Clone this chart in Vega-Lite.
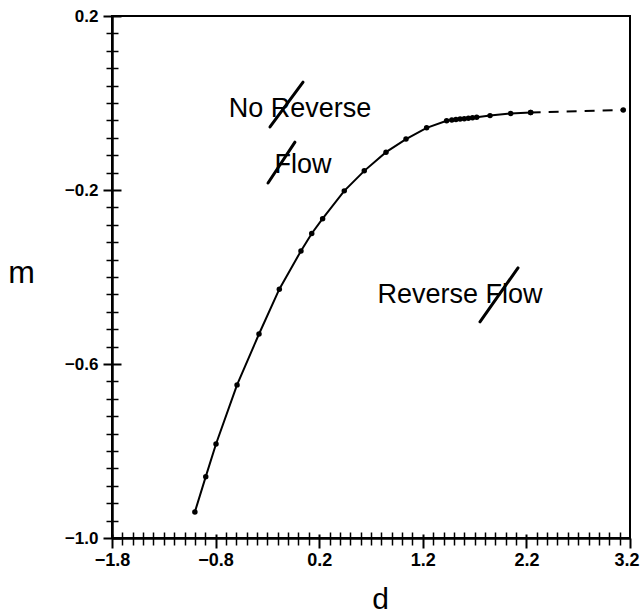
{
  "$schema": "https://vega.github.io/schema/vega-lite/v6.json",
  "autosize": {"type": "none"},
  "padding": {"left": 112, "top": 16, "right": 11, "bottom": 75},
  "width": 518,
  "height": 522,
  "background": "white",
  "config": {
    "view": {"stroke": "#000", "strokeWidth": 2},
    "font": "Liberation Sans"
  },
  "datasets": {
    "curve": [
      {"d": -1.0, "m": -0.94},
      {"d": -0.895, "m": -0.859},
      {"d": -0.796, "m": -0.784},
      {"d": -0.593, "m": -0.648},
      {"d": -0.381, "m": -0.531},
      {"d": -0.185, "m": -0.428},
      {"d": 0.024, "m": -0.34},
      {"d": 0.128, "m": -0.3},
      {"d": 0.233, "m": -0.266},
      {"d": 0.442, "m": -0.202},
      {"d": 0.635, "m": -0.156},
      {"d": 0.845, "m": -0.113},
      {"d": 1.038, "m": -0.083},
      {"d": 1.237, "m": -0.057},
      {"d": 1.43, "m": -0.041},
      {"d": 1.48, "m": -0.039},
      {"d": 1.52, "m": -0.038},
      {"d": 1.56, "m": -0.037},
      {"d": 1.6, "m": -0.036},
      {"d": 1.64, "m": -0.035},
      {"d": 1.68, "m": -0.034},
      {"d": 1.72, "m": -0.033},
      {"d": 1.849, "m": -0.029},
      {"d": 2.048, "m": -0.024},
      {"d": 2.241, "m": -0.022}
    ],
    "dash": [
      {"d": 2.241, "m": -0.022},
      {"d": 3.135, "m": -0.016}
    ],
    "labels": [
      {"d": 0.015, "m": -0.014, "text": "No Reverse"},
      {"d": 0.044, "m": -0.143, "text": "Flow"},
      {"d": 1.559, "m": -0.441, "text": "Reverse Flow"}
    ],
    "strikes": [
      {"d": -0.275, "m": -0.055, "d2": 0.044, "m2": 0.048},
      {"d": -0.294, "m": -0.184, "d2": -0.034, "m2": -0.09},
      {"d": 1.752, "m": -0.503, "d2": 2.119, "m2": -0.379}
    ]
  },
  "resolve": {"axis": {"x": "independent", "y": "independent"}},
  "layer": [
    {
      "data": {"name": "curve"},
      "mark": {"type": "line", "color": "#000", "strokeWidth": 2},
      "encoding": {
        "x": {
          "field": "d", "type": "quantitative",
          "scale": {"domain": [-1.8, 3.2], "nice": false, "zero": false},
          "axis": {
            "orient": "bottom",
            "values": [-1.8, -0.8, 0.2, 1.2, 2.2],
            "format": ".1f",
            "grid": true, "gridColor": "#000", "gridWidth": 2, "gridDash": [9, 2000], "gridDashOffset": 1491,
            "labelOverlap": false,
            "domainColor": "#000", "domainWidth": 2.5,
            "tickColor": "#000", "tickWidth": 2, "tickSize": 10,
            "labelFontSize": 18, "labelFontWeight": "bold", "labelColor": "#000",
            "labelPadding": 3, "labelFlush": false,
            "title": "d", "titleFontSize": 30, "titleFontWeight": "normal", "titleColor": "#000",
            "titleX": 268, "titleY": 70, "titleBaseline": "alphabetic", "titleAlign": "center"
          }
        },
        "y": {
          "field": "m", "type": "quantitative",
          "scale": {"domain": [-1.0, 0.2], "nice": false, "zero": false},
          "axis": {
            "orient": "left",
            "values": [-1.0, -0.6, -0.2, 0.2],
            "format": ".1f",
            "grid": true, "gridColor": "#000", "gridWidth": 2, "gridDash": [9, 2000], "gridDashOffset": 0,
            "labelOverlap": false,
            "domainColor": "#000", "domainWidth": 2.5,
            "tickColor": "#000", "tickWidth": 2, "tickSize": 9,
            "labelFontSize": 17, "labelFontWeight": "bold", "labelColor": "#000",
            "labelPadding": 5, "labelFlush": false,
            "title": "m", "titleFontSize": 32, "titleFontWeight": "normal", "titleColor": "#000",
            "titleAngle": 0, "titleX": -91, "titleY": 256, "titleAlign": "center", "titleBaseline": "middle"
          }
        }
      }
    },
    {
      "data": {"name": "curve"},
      "mark": {"type": "point", "filled": true, "color": "#000", "size": 30, "opacity": 1},
      "encoding": {
        "x": {
          "field": "d", "type": "quantitative",
          "axis": {
            "orient": "bottom",
            "values": [-1.7,-1.6,-1.5,-1.4,-1.3,-1.2,-1.1,-1.0,-0.9,-0.7,-0.6,-0.5,-0.4,-0.3,-0.2,-0.1,0,0.1,0.3,0.4,0.5,0.6,0.7,0.8,0.9,1.0,1.1,1.3,1.4,1.5,1.6,1.7,1.8,1.9,2.0,2.1,2.3,2.4,2.5,2.6,2.7,2.8,2.9,3.0,3.1],
            "labels": false, "domain": false, "title": null,
            "grid": true, "gridColor": "#000", "gridWidth": 1.5, "gridDash": [6, 2000], "gridDashOffset": 1490,
            "tickColor": "#000", "tickWidth": 1.5, "tickSize": 7
          }
        },
        "y": {
          "field": "m", "type": "quantitative",
          "axis": {
            "orient": "left",
            "values": [-0.96,-0.92,-0.88,-0.84,-0.8,-0.76,-0.72,-0.68,-0.64,-0.56,-0.52,-0.48,-0.44,-0.4,-0.36,-0.32,-0.28,-0.24,-0.16,-0.12,-0.08,-0.04,0,0.04,0.08,0.12,0.16],
            "labels": false, "domain": false, "title": null,
            "grid": true, "gridColor": "#000", "gridWidth": 1.5, "gridDash": [6, 2000], "gridDashOffset": 0,
            "tickColor": "#000", "tickWidth": 1.5, "tickSize": 6
          }
        }
      }
    },
    {
      "data": {"name": "dash"},
      "mark": {"type": "line", "color": "#000", "strokeWidth": 2, "strokeDash": [10, 8]},
      "encoding": {
        "x": {
          "field": "d", "type": "quantitative",
          "axis": {
            "orient": "bottom",
            "values": [3.2],
            "format": ".1f",
            "grid": false, "domain": false, "title": null,
            "tickColor": "#000", "tickWidth": 2, "tickSize": 10,
            "labelFontSize": 18, "labelFontWeight": "bold", "labelColor": "#000",
            "labelPadding": 3, "labelFlush": false, "labelBound": false,
            "labelAlign": "right", "labelOffset": 9
          }
        },
        "y": {"field": "m", "type": "quantitative", "axis": null}
      }
    },
    {
      "data": {"name": "dash"},
      "mark": {"type": "point", "filled": true, "color": "#000", "size": 30, "opacity": 1},
      "encoding": {
        "x": {"field": "d", "type": "quantitative", "axis": null},
        "y": {"field": "m", "type": "quantitative", "axis": null}
      }
    },
    {
      "data": {"name": "labels"},
      "mark": {"type": "text", "fontSize": 27, "color": "#000", "align": "center", "baseline": "middle"},
      "encoding": {
        "x": {"field": "d", "type": "quantitative", "axis": null},
        "y": {"field": "m", "type": "quantitative", "axis": null},
        "text": {"field": "text"}
      }
    },
    {
      "data": {"name": "strikes"},
      "mark": {"type": "rule", "color": "#000", "strokeWidth": 3, "strokeCap": "round"},
      "encoding": {
        "x": {"field": "d", "type": "quantitative", "axis": null},
        "y": {"field": "m", "type": "quantitative", "axis": null},
        "x2": {"field": "d2"},
        "y2": {"field": "m2"}
      }
    }
  ]
}
